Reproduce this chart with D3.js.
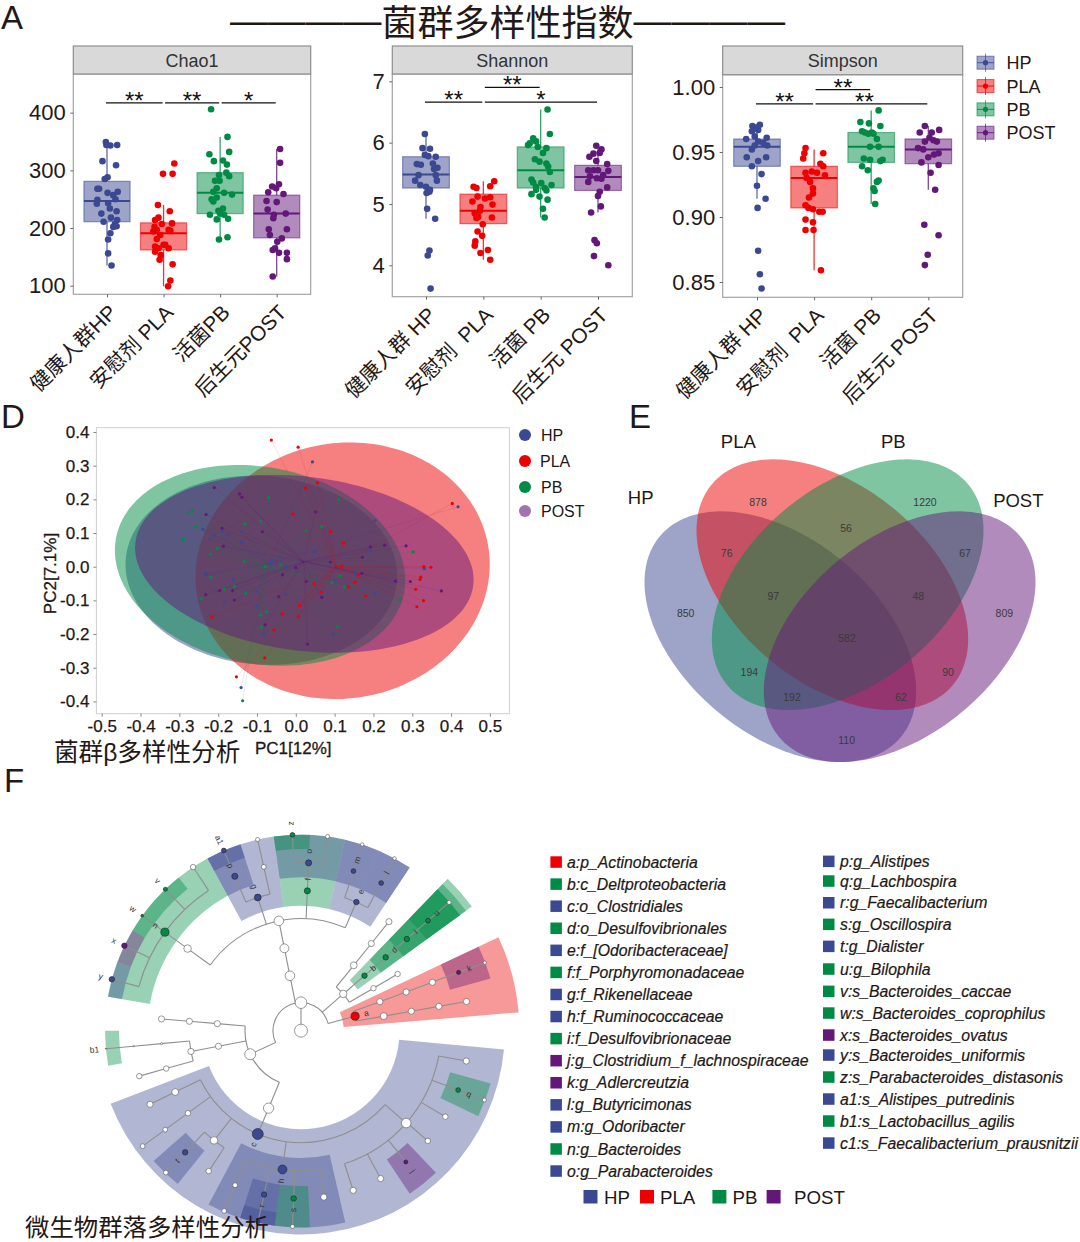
<!DOCTYPE html>
<html><head><meta charset="utf-8">
<script src="https://cdn.jsdelivr.net/npm/d3@7/dist/d3.min.js"></script>
<style>
html,body{margin:0;padding:0;background:#fff;overflow:hidden}
svg{display:block}
text{font-family:"Liberation Sans","Noto Sans CJK SC",sans-serif;fill:#231815}
</style></head><body><svg id="c" width="1080" height="1242" viewBox="0 0 1080 1242"></svg>
<script>
/* ---------- shared categories ---------- */
const groups=["HP","PLA","PB","POST"];
const groupColors={HP:"#3B4992",PLA:"#EE0000",PB:"#008B45",POST:"#631879"};

/* ---------- A: box stats [low,q1,median,q3,high] per group ---------- */
const chao1Box=[[135,211,247,281,347],[99,162,191,209,240],[180,225,261,296,358],[116,183,225,257,337]];
const shannonBox=[[4.76,5.26,5.48,5.77,6.14],[4.09,4.68,4.89,5.16,5.37],[4.78,5.26,5.55,5.93,6.54],[4.86,5.22,5.44,5.63,5.95]];
const simpsonBox=[[.914,.939,.954,.960,.971],[.859,.907,.930,.939,.952],[.910,.942,.954,.965,.982],[.921,.941,.952,.960,.970]];

/* samples as [jitter in category steps, value] */
const chao1HP=[[-.02,349],[-.01,344],[.06,343],[.18,344],[-.08,316],[.16,309],[.01,288],[-.04,285],[-.17,268],[-.14,268],[.01,261],[.19,263],[.11,257],[.15,250],[-.17,249],[-.18,242],[.02,243],[.05,234],[.17,229],[-.10,225],[.07,218],[-.06,211],[.18,214],[.14,207],[.11,202],[.17,203],[.06,191],[.02,180],[.02,156],[.08,135]];
const chao1PLA=[[.19,312],[-.01,294],[.16,294],[-.10,240],[.11,229],[-.09,218],[-.15,214],[.15,208],[-.16,202],[-.03,207],[.09,197],[.12,195],[-.18,194],[-.12,181],[0,171],[.03,171],[-.15,168],[-.09,165],[.09,165],[-.15,159],[-.05,153],[-.07,145],[.16,137],[.12,109],[.08,99],[-.12,197],[-.06,188]];
const chao1PB=[[-.16,406],[.13,358],[-.19,328],[.16,332],[-.11,316],[.05,317],[.12,310],[-.02,292],[.11,296],[.16,290],[-.09,282],[-.01,282],[-.06,269],[-.12,263],[.07,261],[.21,258],[-.06,253],[-.15,250],[-.12,246],[.05,234],[-.03,230],[-.18,223],[0,225],[.07,223],[-.06,215],[.14,216],[-.02,180],[.13,184]];
const chao1POST=[[.06,337],[.06,313],[.04,276],[-.08,272],[-.01,269],[-.15,262],[.12,259],[-.18,247],[0,245],[-.16,232],[.16,225],[-.05,223],[-.06,217],[-.14,198],[.18,198],[-.12,188],[.09,182],[.01,176],[-.03,165],[-.07,162],[.04,157],[.18,157],[.18,146],[-.07,116]];

const shannonHP=[[-.02,6.14],[-.06,5.91],[.07,5.90],[-.02,5.80],[.04,5.78],[.17,5.77],[-.16,5.65],[-.09,5.64],[.12,5.66],[.2,5.59],[.14,5.57],[-.13,5.47],[.17,5.47],[-.19,5.38],[.19,5.38],[-.1,5.31],[0,5.28],[.07,5.23],[.01,5.18],[.06,5.20],[.02,4.92],[.16,4.76],[.06,4.24],[.03,4.16],[.08,3.62]];
const shannonPLA=[[-.17,5.28],[-.12,5.26],[.19,5.37],[.12,5.29],[-.10,5.12],[.03,5.09],[.12,5.11],[-.19,5.04],[.16,4.99],[-.05,4.95],[-.15,4.85],[-.09,4.79],[.15,4.78],[-.01,4.67],[-.10,4.55],[-.02,4.48],[-.14,4.39],[-.15,4.32],[.08,4.25],[-.05,4.20],[.12,4.09],[-.06,4.89],[-.12,4.77]];
const shannonPB=[[.12,6.54],[.16,6.14],[-.13,6.07],[-.19,5.99],[-.22,5.96],[-.08,6.02],[-.05,5.93],[.10,5.91],[.04,5.83],[-.10,5.73],[-.02,5.69],[.10,5.66],[.13,5.61],[.16,5.52],[-.16,5.40],[-.13,5.35],[.01,5.34],[.19,5.31],[-.08,5.28],[.07,5.26],[.10,5.22],[-.16,5.16],[-.02,5.12],[.12,5.07],[.04,4.92],[.07,4.78],[-.08,5.23]];
const shannonPOST=[[-.03,5.95],[.06,5.89],[.03,5.83],[-.08,5.82],[-.15,5.77],[-.03,5.70],[.16,5.65],[-.17,5.55],[-.08,5.55],[0,5.55],[.18,5.54],[.09,5.47],[-.14,5.45],[-.02,5.42],[.06,5.41],[-.17,5.36],[.16,5.27],[.03,5.20],[0,5.13],[.05,4.96],[-.12,4.86],[-.06,4.41],[-.02,4.36],[-.07,4.15],[.18,4.0]];

const simpsonHP=[[-.08,.970],[.05,.971],[0,.969],[-.09,.966],[.02,.967],[-.04,.962],[-.19,.960],[.17,.961],[.02,.958],[-.04,.955],[.18,.955],[.11,.957],[-.09,.952],[-.18,.946],[.16,.946],[.02,.943],[-.09,.939],[.08,.933],[0,.924],[.15,.914],[.01,.907],[.02,.874],[.05,.856],[.08,.845]];
const simpsonPLA=[[-.15,.953],[-.17,.949],[-.19,.945],[.16,.949],[.11,.941],[.16,.939],[-.15,.934],[-.04,.935],[.05,.934],[.19,.932],[-.13,.930],[-.07,.927],[-.02,.922],[-.02,.918],[-.09,.915],[-.15,.909],[-.10,.907],[-.02,.906],[.09,.904],[.15,.904],[-.15,.898],[-.02,.896],[-.15,.890],[-.01,.890],[.12,.859]];
const simpsonPB=[[.13,.982],[-.19,.973],[-.04,.972],[.16,.970],[-.16,.966],[-.05,.964],[.04,.964],[.10,.960],[-.02,.954],[.13,.954],[-.13,.945],[-.02,.944],[.16,.943],[.20,.944],[-.16,.939],[-.06,.936],[.13,.928],[.04,.922],[.06,.920],[.07,.910],[-.11,.965],[.01,.965],[.10,.927]];
const simpsonPOST=[[-.06,.970],[-.15,.965],[.06,.965],[.19,.967],[.02,.961],[-.06,.958],[.15,.958],[-.18,.953],[.18,.949],[.10,.948],[0,.946],[-.12,.942],[.18,.940],[.04,.934],[.12,.921],[-.07,.894],[.18,.886],[-.01,.871],[-.06,.863],[.09,.959],[-.09,.952]];

/* tick labels */
const chao1Ticks=[100,200,300,400], shannonTicks=[4,5,6,7], simpsonTicks=[.85,.90,.95,1.00];
const chao1Cats=["健康人群HP","安慰剂 PLA","活菌PB","后生元POST"];
const spacedCats=["健康人群 HP","安慰剂  PLA","活菌 PB","后生元 POST"];
/* brackets [from,to,value,stars] */
const chao1Sig=[[0,1,417,"**"],[1,2,417,"**"],[2,3,417,"*"]];
const shannonSig=[[0,1,6.66,"**"],[1,2,6.90,"**"],[1,3,6.66,"*"]];
const simpsonSig=[[0,1,.987,"**"],[1,2,.998,"**"],[1,3,.987,"**"]];

/* ---------- D: PCoA ---------- */
const pcoaXTicks=[-.5,-.4,-.3,-.2,-.1,0,.1,.2,.3,.4,.5];
const pcoaYTicks=[-.4,-.3,-.2,-.1,0,.1,.2,.3,.4];
/* ellipse: [cx,cy,xExtent,yExtent,correlation] */
const ellipseHP=[-.0887,-.0104,.350,.281,-.06];
const ellipsePLA=[.1206,-.012,.379,.381,.05];
const ellipsePB=[-.092,.004,.374,.298,-.15];
const ellipsePOST=[.022,.0086,.436,.264,-.18];
const centroidHP=[-.069,.01], centroidPLA=[.103,0], centroidPB=[-.079,0], centroidPOST=[.02,.015];
const pcoaHP=[[.043,.311],[.418,.178],[.204,.137],[-.239,.111],[-.189,.104],[-.212,.094],[-.174,.096],[-.22,.083],[-.138,.104],[-.14,.074],[.192,.046],[.049,.045],[-.041,.03],[-.062,.02],[-.066,.01],[-.025,-.002],[.331,-.006],[-.233,-.02],[-.23,-.025],[.155,-.02],[.101,-.04],[-.161,-.04],[-.101,-.074],[-.025,-.082],[.205,-.079],[-.184,-.107],[-.101,-.115],[-.082,-.201],[.096,-.201],[-.141,-.359]];
const pcoaPLA=[[-.063,.376],[.006,.355],[.056,.249],[.025,.234],[.403,.188],[-.007,.156],[.09,.104],[.123,.07],[.119,.002],[.33,0],[.348,-.002],[.322,-.031],[.32,-.038],[.161,-.025],[.153,-.046],[.136,-.06],[.18,-.087],[.309,-.067],[.329,-.101],[.312,-.119],[.047,-.051],[.065,-.076],[.01,-.115],[-.035,-.14],[.007,-.148],[-.216,-.149],[-.056,-.188],[-.08,-.271],[-.153,-.327]];
const pcoaPB=[[-.277,.16],[-.266,.166],[-.07,.205],[.111,.2],[-.091,.136],[-.131,.127],[-.258,.119],[.067,.12],[.027,.107],[-.29,.081],[-.202,.055],[-.22,.037],[.302,.044],[-.133,.015],[-.079,0],[-.039,.005],[-.219,-.031],[.113,-.027],[.094,-.047],[.125,-.06],[-.158,-.058],[-.184,-.067],[-.129,-.079],[-.244,-.094],[.268,-.099],[-.076,-.134],[-.091,-.144],[-.089,-.18],[.108,-.178],[-.137,-.398]];
const pcoaPOST=[[-.21,.235],[-.145,.216],[-.139,.206],[-.231,.155],[.051,.163],[-.19,.114],[-.086,.104],[-.187,.061],[.229,.064],[.284,.062],[.192,.059],[.172,.028],[.089,.014],[0,-.003],[-.034,-.024],[.17,-.02],[.027,-.044],[.257,-.043],[.295,-.044],[.375,-.072],[-.232,-.083],[-.196,-.071],[-.163,-.071],[-.044,-.089],[.067,-.091],[-.158,-.099],[-.079,-.173],[.03,-.23]];

/* ---------- E: Venn ---------- */
const vennSets=["HP","PLA","PB","POST"];
const vennCentres=[[481,680],[637,524],[683,524],[839,680]];
const vennTilt=[.434,.434,-.434,-.434];
const vennCounts=[878,1220,76,56,67,97,48,850,809,582,194,90,192,62,110];
const vennCountAt=[[414,278],[915,278],[320,431],[678,355],[1035,431],[460,558],[895,558],[197,609],[1153,609],[681,685],[388,787],[984,787],[516,863],[843,863],[680,991]];
const vennNameAt=[[62,263],[355,95],[820,95],[1195,270]];

/* ---------- F: cladogram ---------- */
/* [id,parent,level,angle°,group,abundance,label] */
const cladeNodes=[
["root",null,0,0,null,19,""],["L1","root",1,0,null,17,""],
["T2","L1",2,-11.4,null,14,""],["T3","T2",3,-11.4,null,13,""],["T4","T3",4,-11.4,null,14,""],
["N5","T4",5,-54.1,null,11,""],["n","N5",6,-54.1,"PB",12,"n"],
["y","n",7,-74.8,"HP",8,"y"],["x","n",7,-64.3,"POST",8,"x"],["w","n",7,-54.1,"PB",4,"w"],["v","n",7,-43.8,"PB",6,"v"],["n7","n",7,-33.4,null,8,""],
["g","T4",5,-18,"HP",10,"g"],["p","g",6,-23.2,"HP",9,"p"],["a1","p",7,-23.2,"HP",7,"a1"],["g6","g",6,-12.8,null,7,""],["g7","g6",7,-12.8,null,6,""],
["f","T4",5,2.6,"PB",9,"f"],["o","f",6,2.6,"HP",9,"o"],["z","o",7,-2.5,"PB",7,"z"],["o7","o",7,7.8,null,6,""],
["e","T4",5,23.3,"HP",8,"e"],["m","e",6,18.2,"HP",7,"m"],["m7","m",7,18.2,null,5,""],["l","e",6,28.5,"HP",7,"l"],["l7","l",7,28.5,null,5,""],
["R2","L1",2,49,null,11,""],
["R3a","R2",3,38.9,null,10,""],["R4a","R3a",4,38.9,null,9,""],["R5a","R4a",5,38.9,null,9,""],
["b","R2",3,49.1,"PB",8,"b"],["d","b",4,49.1,"PB",8,"d"],["i","d",5,49.1,"PB",8,"i"],["u","i",6,49.1,"PB",7,"u"],["u7","u",7,49.1,null,6,""],
["R3c","R2",3,59.6,null,8,""],["R4c","R3c",4,59.6,null,8,""],
["a","L1",2,75,"PLA",12,"a"],
["a3","a",3,69.8,null,9,""],["a4","a3",4,69.8,null,9,""],["a5","a4",5,69.8,null,9,""],["k","a5",6,69.7,"POST",6,"k"],["k7","k",7,69.7,null,5,""],
["a3b","a",3,80,null,10,""],["a4b","a3b",4,80,null,9,""],["a5b","a4b",5,80,null,9,""],["a6b","a5b",6,80,null,9,""],
["W2","L1",2,-114.9,null,16,""],
["W3a","W2",3,-85.2,null,9,""],["W4a","W3a",4,-85.2,null,9,""],["W5a","W4a",5,-85.2,null,9,""],
["W3b","W2",3,-100.7,null,9,""],["W4b","W3b",4,-100.7,null,9,""],
["W5b","W4b",5,-95.3,null,3,""],["W6b","W5b",6,-95.3,null,2,""],["b1","W6b",7,-95.3,"PB",1,"b1"],
["W5c","W4b",5,-105.7,null,8,""],["W6c","W5c",6,-105.7,null,8,""],
["W3c","W2",3,-157.3,null,15,""],["c","W3c",4,-157.3,"HP",16,"c"],
["c5a","c",5,-116,null,10,""],["c6a","c5a",6,-116,null,9,""],
["c5b","c",5,-126.1,null,8,""],["c6b","c5b",6,-126.1,null,7,""],["c7b","c6b",7,-126.1,null,7,""],
["c5c","c",5,-141.6,null,11,""],["t","c5c",6,-136.4,"HP",8,"t"],["t7","t",7,-136.4,null,7,""],["c6c","c5c",6,-146.7,null,8,""],
["h","c",5,-172.4,"HP",13,"h"],["h6a","h",6,-156.9,null,7,""],["h7a","h6a",7,-156.9,null,7,""],
["r","h",6,-167.3,"HP",8,"r"],["c1","r",7,-167.3,"HP",6,""],
["s","h",6,-177.5,"PB",8,"s"],["s7","s",7,-177.5,null,6,""],["h6d","h",6,-187.8,null,9,""],
["c5d","c",5,-228.7,null,14,""],
["d6a","c5d",6,-259.6,null,9,""],["q","c5d",6,-249.3,"PB",7,"q"],["q7","q",7,-249.3,null,6,""],
["d6c","c5d",6,-239.2,null,8,""],["d6d","c5d",6,-229,null,8,""],["j","c5d",6,-218.6,"POST",6,"j"],
["d6f","c5d",6,-208.3,null,9,""],["d6g","c5d",6,-198.1,null,9,""]
];
/* shaded clades [from°,to°,inner level,outer level,group] */
const cladeSectors=[
[-80,-28.5,5.48,7.0,"PB"],[-80,-69.5,6.49,7.0,"HP"],[-69.5,-59.2,6.49,7.0,"POST"],[-59.2,-49,6.49,7.0,"PB"],[-49,-38.6,6.49,7.0,"PB"],
[-28.5,-8,4.46,7.0,"HP"],[-28.5,-18,5.48,7.0,"HP"],[-28.5,-18,6.49,7.0,"HP"],
[-8,13,4.46,7.0,"PB"],[-8,13,5.48,7.0,"HP"],[-8,2.6,6.49,7.0,"PB"],
[13,33.7,4.46,7.0,"HP"],[13,23.4,5.48,7.0,"HP"],[23.4,33.7,5.48,7.0,"HP"],
[44,54,2.5,7.54,"PB"],[44,54,3.52,7.28,"PB"],[44,54,4.52,7.02,"PB"],[44,54,5.54,7.02,"PB"],
[64.7,85.2,1.53,7.8,"PLA"],[64.7,74.6,5.52,7.02,"POST"],
[95.3,249,3.52,7.28,"HP"],[167,208,4.55,7.03,"HP"],[187.7,198,5.55,7.03,"HP"],[187.7,198,6.55,7.03,"HP"],[177.4,187.7,5.55,7.03,"PB"],
[218.8,228.5,5.5,7.03,"HP"],[136.5,146.3,5.53,7.0,"POST"],[105.6,115.8,5.53,7.03,"PB"],[259.7,270,6.5,7.0,"PB"]
];
const taxaLeft=[["a:p_Actinobacteria","PLA"],["b:c_Deltproteobacteria","PB"],["c:o_Clostridiales","HP"],["d:o_Desulfovibrionales","PB"],["e:f_[Odoribacteraceae]","HP"],["f:f_Porphyromonadaceae","PB"],["g:f_Rikenellaceae","HP"],["h:f_Ruminococcaceae","HP"],["i:f_Desulfovibrionaceae","PB"],["j:g_Clostridium_f_lachnospiraceae","POST"],["k:g_Adlercreutzia","POST"],["l:g_Butyricimonas","HP"],["m:g_Odoribacter","HP"],["n:g_Bacteroides","PB"],["o:g_Parabacteroides","HP"]];
const taxaRight=[["p:g_Alistipes","HP"],["q:g_Lachbospira","PB"],["r:g_Faecalibacterium","HP"],["s:g_Oscillospira","PB"],["t:g_Dialister","HP"],["u:g_Bilophila","PB"],["v:s_Bacteroides_caccae","PB"],["w:s_Bacteroides_coprophilus","PB"],["x:s_Bacteroides_ovatus","POST"],["y:s_Bacteroides_uniformis","HP"],["z:s_Parabacteroides_distasonis","PB"],["a1:s_Alistipes_putredinis","HP"],["b1:s_Lactobacillus_agilis","PB"],["c1:s_Faecalibacterium_prausnitzii","HP"]];

/* ================= drawing ================= */
const svg=d3.select("#c");
const ink="#231815";
const letter=(t,x,y)=>svg.append("text").attr("x",x).attr("y",y).attr("font-size",33).text(t);
letter("A",1,29);letter("D",1,428);letter("E",629,428);letter("F",4,792);
const titleText=svg.append("text").attr("x",507.5).attr("y",36).attr("text-anchor","middle").attr("font-size",36);
titleText.append("tspan").attr("font-size",37.9).attr("dy",-2).text("————");
titleText.append("tspan").attr("dy",2).text("菌群多样性指数");
titleText.append("tspan").attr("font-size",37.9).attr("dy",-2).text("————");

/* ---- A ---- */
const boxPanels=[
 {title:"Chao1",left:73.3,right:310.7,top:46,strip:74,bottom:294.3,cx:[107,276.7],dom:[100,400],rng:[285.7,112.7],ticks:chao1Ticks,fmt:d=>d,cats:chao1Cats,box:chao1Box,pts:[chao1HP,chao1PLA,chao1PB,chao1POST],sig:chao1Sig,starShift:[0,0,0]},
 {title:"Shannon",left:392.3,right:632.3,top:46,strip:74,bottom:296.7,cx:[426,598],dom:[4,7],rng:[265.3,81.3],ticks:shannonTicks,fmt:d=>d,cats:spacedCats,box:shannonBox,pts:[shannonHP,shannonPLA,shannonPB,shannonPOST],sig:shannonSig,starShift:[0,0,0]},
 {title:"Simpson",left:722.7,right:962.7,top:46,strip:74.7,bottom:297.3,cx:[757,928.3],dom:[.85,1],rng:[282,87],ticks:simpsonTicks,fmt:d3.format(".2f"),cats:spacedCats,box:simpsonBox,pts:[simpsonHP,simpsonPLA,simpsonPB,simpsonPOST],sig:simpsonSig,starShift:[0,0,-7]}
];
boxPanels.forEach(P=>{
  const g=svg.append("g");
  const x=d3.scalePoint().domain(d3.range(4)).range(P.cx);
  const y=d3.scaleLinear().domain(P.dom).range(P.rng);
  const step=x.step(), bw=step*.815;
  g.append("rect").attr("x",P.left).attr("y",P.strip).attr("width",P.right-P.left).attr("height",P.bottom-P.strip).attr("fill","#fff").attr("stroke","#a3a3a3").attr("stroke-width",1.2);
  g.append("rect").attr("x",P.left).attr("y",P.top).attr("width",P.right-P.left).attr("height",P.strip-P.top).attr("fill","#d9d9d9").attr("stroke","#8e8e8e").attr("stroke-width",1.2);
  g.append("text").attr("x",(P.left+P.right)/2).attr("y",(P.top+P.strip)/2+6.5).attr("text-anchor","middle").attr("font-size",18).style("fill","#333").text(P.title);
  const ay=g.append("g").attr("transform",`translate(${P.left},0)`).call(d3.axisLeft(y).tickValues(P.ticks).tickSize(3).tickPadding(4.5).tickFormat(P.fmt));
  ay.select(".domain").remove();ay.selectAll("line").attr("stroke","#666");
  ay.selectAll("text").attr("font-size",22).style("fill",ink);
  const ax=g.append("g").attr("transform",`translate(0,${P.bottom})`).call(d3.axisBottom(x).tickSize(3).tickFormat(i=>P.cats[i]));
  ax.select(".domain").remove();ax.selectAll("line").attr("stroke","#666");
  ax.selectAll("text").attr("font-size",20.8).attr("y",0).attr("dy",0).attr("text-anchor","end").style("white-space","pre").style("fill",ink)
    .attr("transform","translate(10.5,19.5) rotate(-45)");
  groups.forEach((name,i)=>{
    const c=groupColors[name],[lo,q1,med,q3,hi]=P.box[i],gg=g.append("g");
    gg.append("line").attr("x1",x(i)).attr("x2",x(i)).attr("y1",y(q3)).attr("y2",y(hi)).attr("stroke",c).attr("stroke-opacity",.8).attr("stroke-width",1.3);
    gg.append("line").attr("x1",x(i)).attr("x2",x(i)).attr("y1",y(q1)).attr("y2",y(lo)).attr("stroke",c).attr("stroke-opacity",.8).attr("stroke-width",1.3);
    gg.append("rect").attr("x",x(i)-bw/2).attr("width",bw).attr("y",y(q3)).attr("height",y(q1)-y(q3)).attr("fill",c).attr("fill-opacity",.5).attr("stroke",c).attr("stroke-opacity",.55).attr("stroke-width",1.2);
    gg.append("line").attr("x1",x(i)-bw/2).attr("x2",x(i)+bw/2).attr("y1",y(med)).attr("y2",y(med)).attr("stroke",c).attr("stroke-width",2);
    gg.selectAll("circle").data(P.pts[i]).join("circle").attr("cx",d=>x(i)+d[0]*step).attr("cy",d=>y(d[1])).attr("r",3.3).attr("fill",c);
  });
  P.sig.forEach(([a,b,v,s],k)=>{
    const x1=x(a)+(a===0?-1:1.5),x2=x(b)-1,yy=y(v);
    g.append("line").attr("x1",x1).attr("x2",x2).attr("y1",yy).attr("y2",yy).attr("stroke","#111").attr("stroke-width",1.2);
    g.append("text").attr("x",(x1+x2)/2+P.starShift[k]).attr("y",yy+6).attr("text-anchor","middle").attr("font-size",24).style("fill","#111").text(s);
  });
});
/* top-right legend */
const lgY=d3.scalePoint().domain(groups).range([62.7,132.7]);
groups.forEach(n=>{
  const c=groupColors[n],yy=lgY(n),g=svg.append("g");
  g.append("line").attr("x1",985.5).attr("x2",985.5).attr("y1",yy-9).attr("y2",yy+9).attr("stroke",c).attr("stroke-opacity",.7);
  g.append("rect").attr("x",977).attr("y",yy-6.5).attr("width",17).attr("height",13).attr("fill",c).attr("fill-opacity",.5).attr("stroke",c).attr("stroke-opacity",.6);
  g.append("line").attr("x1",977).attr("x2",994).attr("y1",yy).attr("y2",yy).attr("stroke",c).attr("stroke-opacity",.9);
  g.append("circle").attr("cx",985.5).attr("cy",yy).attr("r",2.6).attr("fill",c);
  g.append("text").attr("x",1006.5).attr("y",yy+6.5).attr("font-size",18).text(n);
});

/* ---- D ---- */
const px=d3.scaleLinear().domain([-.5,.5]).range([101.7,489.9]);
const py=d3.scaleLinear().domain([-.4,.4]).range([701.4,432]);
const D=svg.append("g");
D.append("rect").attr("x",96.4).attr("y",427.7).attr("width",413).attr("height",286).attr("fill","#fff").attr("stroke","#cfcfcf");
const ellipseLine=d3.line().x(d=>px(d[0])).y(d=>py(d[1])).curve(d3.curveLinearClosed);
const ellipsePts=([cx,cy,rx,ry,rho])=>d3.range(0,360,2).map(a=>{const t=a*Math.PI/180;return [cx+rx*Math.cos(t),cy+ry*(rho*Math.cos(t)+Math.sqrt(1-rho*rho)*Math.sin(t))];});
[["HP",ellipseHP],["PLA",ellipsePLA],["PB",ellipsePB],["POST",ellipsePOST]].forEach(([n,e])=>
  D.append("path").attr("d",ellipseLine(ellipsePts(e))).attr("fill",groupColors[n]).attr("fill-opacity",.5));
const pcoaSets=[["HP",pcoaHP,centroidHP],["PLA",pcoaPLA,centroidPLA],["PB",pcoaPB,centroidPB],["POST",pcoaPOST,centroidPOST]];
pcoaSets.forEach(([n,pts,ct])=>{
  D.append("g").selectAll("line").data(pts).join("line").attr("x1",d=>px(d[0])).attr("y1",d=>py(d[1])).attr("x2",px(ct[0])).attr("y2",py(ct[1])).attr("stroke",groupColors[n]).attr("stroke-opacity",.22).attr("stroke-width",.6);
});
pcoaSets.forEach(([n,pts])=>{
  D.append("g").selectAll("circle").data(pts).join("circle").attr("cx",d=>px(d[0])).attr("cy",d=>py(d[1])).attr("r",1.6).attr("fill",groupColors[n]);
});
const dx=D.append("g").attr("transform","translate(0,713.7)").call(d3.axisBottom(px).tickValues(pcoaXTicks).tickSize(3).tickPadding(3).tickFormat(d=>d.toFixed(1)));
dx.select(".domain").remove();dx.selectAll("line").attr("stroke","#888");dx.selectAll("text").attr("font-size",17).style("fill",ink).style("stroke",ink).style("stroke-width",.25);
const dy=D.append("g").attr("transform","translate(96.4,0)").call(d3.axisLeft(py).tickValues(pcoaYTicks).tickSize(3).tickPadding(4).tickFormat(d=>d.toFixed(1)));
dy.select(".domain").remove();dy.selectAll("line").attr("stroke","#888");dy.selectAll("text").attr("font-size",17).style("fill",ink).style("stroke",ink).style("stroke-width",.25);
D.append("text").attr("x",255).attr("y",754).attr("font-size",17).style("stroke",ink).style("stroke-width",.3).text("PC1[12%]");
D.append("text").attr("transform","translate(56,573.5) rotate(-90)").attr("text-anchor","middle").attr("font-size",17).style("stroke",ink).style("stroke-width",.3).text("PC2[7.1%]");
D.append("text").attr("x",54).attr("y",760.5).attr("font-size",24.6).text("菌群β多样性分析");
const lgD=d3.scaleOrdinal().domain(groups).range([435,461,487,511]);
groups.forEach(n=>{
  D.append("circle").attr("cx",525).attr("cy",lgD(n)).attr("r",6).attr("fill",groupColors[n]).attr("fill-opacity",n==="POST"?.6:1);
  D.append("text").attr("x",n==="PLA"?540:541).attr("y",lgD(n)+6).attr("font-size",16).text(n);
});

/* ---- E ---- */
const vx=d3.scaleLinear().domain([0,1380]).range([620,1080]);
const vy=d3.scaleLinear().domain([0,1110]).range([410,780]);
const vennLine=d3.line().x(d=>vx(d[0])).y(d=>vy(d[1])).curve(d3.curveLinearClosed);
const E=svg.append("g");
vennSets.forEach((n,i)=>{
  const [cx,cy]=vennCentres[i],rho=vennTilt[i];
  const ring=d3.range(0,360,2).map(a=>{const t=a*Math.PI/180;return [cx+407.5*Math.cos(t),cy+376*(rho*Math.cos(t)+Math.sqrt(1-rho*rho)*Math.sin(t))];});
  E.append("path").attr("d",vennLine(ring)).attr("fill",groupColors[n]).attr("fill-opacity",.5);
  E.append("text").attr("x",vx(vennNameAt[i][0])).attr("y",vy(vennNameAt[i][1])+6.5).attr("text-anchor","middle").attr("font-size",18.5).text(n);
});
vennCounts.forEach((v,i)=>E.append("text").attr("x",vx(vennCountAt[i][0])).attr("y",vy(vennCountAt[i][1])+3.7).attr("text-anchor","middle").attr("font-size",10.5).style("fill","#3a3a3a").text(v));

/* ---- F ---- */
const F=svg.append("g").attr("transform","translate(301,1030.67)");
const rad=d3.scaleLinear().domain([0,1]).range([0,28]);
const ang=d3.scaleLinear().domain([0,360]).range([0,2*Math.PI]);
const nodeR=d3.scaleLinear().domain([0,19]).range([0,6.5]);
const polar=(lv,a)=>[rad(lv)*Math.sin(ang(a)),-rad(lv)*Math.cos(ang(a))];
const arc=d3.arc();
cladeSectors.forEach(([a0,a1,i0,i1,grp])=>
  F.append("path").attr("d",arc({innerRadius:rad(i0),outerRadius:rad(i1),startAngle:ang(a0),endAngle:ang(a1)})).attr("fill",groupColors[grp]).attr("fill-opacity",.4));
const byId=new Map(cladeNodes.map(n=>[n[0],n]));
const edges=F.append("g").attr("fill","none").attr("stroke","#8f8f8f").attr("stroke-width",1.1);
cladeNodes.forEach(n=>{
  if(!n[1])return;
  const p=byId.get(n[1]),[x1,y1]=polar(p[2],n[3]),[x2,y2]=polar(n[2],n[3]);
  edges.append("line").attr("x1",x1).attr("y1",y1).attr("x2",x2).attr("y2",y2);
});
d3.rollups(cladeNodes.filter(n=>n[1]),v=>d3.extent(v,d=>d[3]),n=>n[1]).forEach(([pid,[lo,hi]])=>{
  if(lo===hi)return;
  const r=rad(byId.get(pid)[2]);
  edges.append("path").attr("d",arc({innerRadius:r,outerRadius:r,startAngle:ang(lo),endAngle:ang(hi)}));
});
cladeNodes.forEach(n=>{
  const [x,y]=polar(n[2],n[3]);
  F.append("circle").attr("cx",x).attr("cy",y).attr("r",nodeR(n[5])).attr("fill",n[4]?groupColors[n[4]]:"#fff").attr("stroke",n[2]===0||!n[4]?"#555":"#222").attr("stroke-width",.6);
  if(n[6]){
    const lv=n[2]+11.5/28,[lx,ly]=polar(lv,n[3]),nm=((n[3]%360)+360)%360,rot=nm<180?nm-90:nm-270;
    F.append("text").attr("transform",`translate(${lx},${ly}) rotate(${rot})`).attr("text-anchor","middle").attr("dy",2.8).attr("font-size",8.4).style("fill","#333").text(n[6]);
  }
});
svg.append("text").attr("x",25).attr("y",1236).attr("font-size",24.4).text("微生物群落多样性分析");

const leftY=d3.scalePoint().domain(d3.range(taxaLeft.length)).range([862,1171]);
const rightY=d3.scaleOrdinal().domain(d3.range(taxaRight.length)).range([861.3,881,902.7,924.3,946.3,969,991.3,1013,1035,1055,1077,1099,1121,1143]);
const legendRow=(list,yf,sx,tx)=>list.forEach(([t,n],i)=>{
  svg.append("rect").attr("x",sx).attr("y",yf(i)-5.7).attr("width",11.5).attr("height",11.5).attr("fill",groupColors[n]);
  svg.append("text").attr("x",tx).attr("y",yf(i)+5.6).attr("font-size",15.8).attr("font-style","italic").style("stroke",ink).style("stroke-width",.2).text(t);
});
legendRow(taxaLeft,leftY,550.4,567);
legendRow(taxaRight,rightY,823,840);
const bottomKeyX=d3.scaleOrdinal().domain(groups).range([583.5,640,712.4,766.6]);
const bottomTextX=d3.scaleOrdinal().domain(groups).range([604,660,732.5,794]);
groups.forEach(n=>{
  svg.append("rect").attr("x",bottomKeyX(n)).attr("y",1190).attr("width",14).attr("height",13.5).attr("fill",groupColors[n]);
  svg.append("text").attr("x",bottomTextX(n)).attr("y",1204).attr("font-size",18.7).text(n);
});
</script></body></html>
